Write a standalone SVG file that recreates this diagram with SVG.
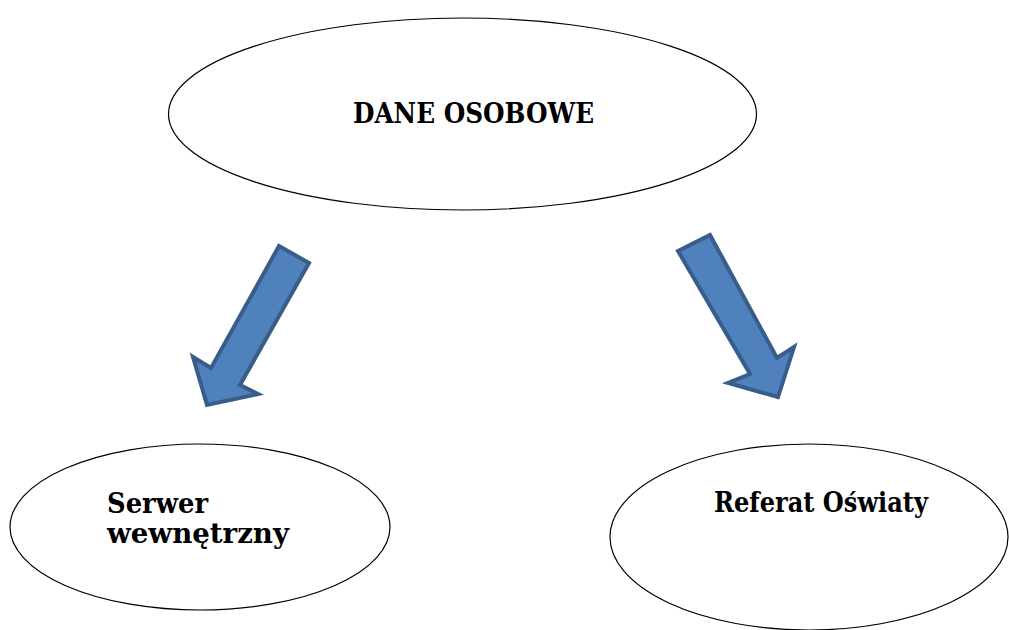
<svg xmlns="http://www.w3.org/2000/svg" width="1009" height="630" viewBox="0 0 1009 630">
  <style>
    .node { fill: #ffffff; stroke: #000000; stroke-width: 1.2; }
    .label { font-family: "DejaVu Serif", "Liberation Serif", serif; font-weight: bold; font-size: 27px; fill: #000000; }
    .arrow { fill: #4f81bd; stroke: #385d8a; stroke-width: 4; stroke-linejoin: miter; }
  </style>
  <rect width="1009" height="630" fill="#ffffff"/>

  <g id="dane-osobowe">
    <ellipse class="node" cx="462.5" cy="114" rx="294" ry="96"/>
    <text class="label" x="353" y="123" textLength="241" lengthAdjust="spacingAndGlyphs">DANE OSOBOWE</text>
  </g>

  <g id="serwer-wewnetrzny">
    <ellipse class="node" cx="200" cy="527" rx="190" ry="83"/>
    <text class="label" x="107" y="513" textLength="101" lengthAdjust="spacingAndGlyphs">Serwer</text>
    <text class="label" x="107" y="543" textLength="182" lengthAdjust="spacingAndGlyphs">wewnętrzny</text>
  </g>

  <g id="referat-oswiaty">
    <ellipse class="node" cx="809" cy="537" rx="199" ry="93"/>
    <text class="label" x="714" y="512" textLength="214" lengthAdjust="spacingAndGlyphs">Referat Oświaty</text>
  </g>

  <g id="connectors">
    <polygon class="arrow" points="279,246 309,263 240,385 258,394 207,405 193,357 211,368"/>
    <polygon class="arrow" points="678,251 710,235 777,358 794,347 778,397 728,383 750,374"/>
  </g>
</svg>
